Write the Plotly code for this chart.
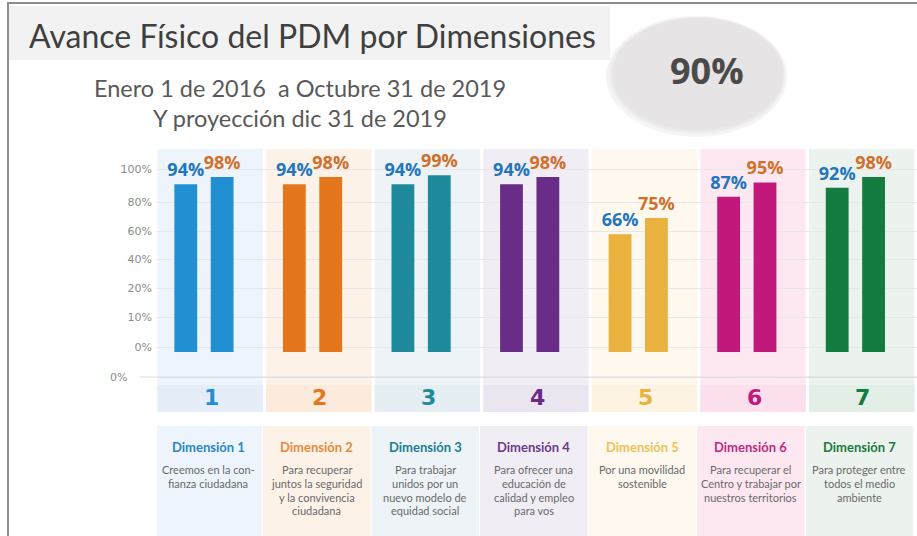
import plotly.graph_objects as go

# ---------------- data ----------------
dimensions = ["1", "2", "3", "4", "5", "6", "7"]
dimension_titles = ["Dimensión 1", "Dimensión 2", "Dimensión 3", "Dimensión 4",
                    "Dimensión 5", "Dimensión 6", "Dimensión 7"]
dimension_texts = [
    ["Creemos en la con-", "fianza ciudadana"],
    ["Para recuperar", "juntos la seguridad", "y la convivencia", "ciudadana"],
    ["Para trabajar", "unidos por un", "nuevo modelo de", "equidad social"],
    ["Para ofrecer una", "educación de", "calidad y empleo", "para vos"],
    ["Por una movilidad", "sostenible"],
    ["Para recuperar el", "Centro y trabajar por", "nuestros territorios"],
    ["Para proteger entre", "todos el medio", "ambiente"],
]
avance_oct_2019 = [94, 94, 94, 94, 66, 87, 92]
proyeccion_dic_2019 = [98, 98, 99, 98, 75, 95, 98]
y_tick_labels = ["100%", "80%", "60%", "40%", "20%", "10%", "0%", "0%"]
y_tick_positions = [102.5, 84, 67.7, 52, 35.8, 19.6, 2.8, -14]
total_label = "90%"
title_text = "Avance Físico del PDM por Dimensiones"
subtitle_lines = ["Enero 1 de 2016  a Octubre 31 de 2019", "Y proyección dic 31 de 2019"]

# ---------------- styles ----------------
bar_colors = ["#2090d3", "#e4761e", "#1e8a9c", "#6a2d87", "#e9b13d", "#c2187b", "#137c3e"]
panel_colors = ["#edf4fb", "#fdf2e8", "#edf3f6", "#f1edf4", "#fef8ee", "#fde8f2", "#ecf3ee"]
band_colors = ["#e5eef8", "#fcebdd", "#e5eef2", "#ebe5ef", "#fdf3e3", "#fbdfed", "#e3eee6"]
title_colors = ["#2a86c4", "#e58a3c", "#1c7f93", "#6b3a8a", "#eec05a", "#c0287e", "#1c7a3e"]
label_blue = "#2176bd"
label_orange = "#d0702a"
TXT_FONT = "Lato"

W, H = 917, 536
L, R, T, B = 157, 917, 149, 412


def px(x):
    return (x - L) / (R - L)


def py(y):
    return (B - y) / (B - T)


YMIN, YMAX = -33.6, 113.7

fig = go.Figure()
fig.add_trace(go.Bar(
    x=dimensions, y=avance_oct_2019, width=0.21, offset=-0.34,
    marker=dict(color=bar_colors, line=dict(width=0)),
    text=[f"{v}%" for v in avance_oct_2019], textposition="outside",
    textfont=dict(family="Open Sans", size=18, color=label_blue, weight="bold"),
    constraintext="none", cliponaxis=False, hoverinfo="skip", showlegend=False,
))
fig.add_trace(go.Bar(
    x=dimensions, y=proyeccion_dic_2019, width=0.21, offset=-0.005,
    marker=dict(color=bar_colors, line=dict(width=0)),
    text=[f"{v}%" for v in proyeccion_dic_2019], textposition="outside",
    textfont=dict(family="Open Sans", size=18, color=label_orange, weight="bold"),
    constraintext="none", cliponaxis=False, hoverinfo="skip", showlegend=False,
))

shapes = []
annotations = []

# frame
shapes.append(dict(type="line", xref="paper", yref="paper", x0=px(7), x1=px(917),
                   y0=py(3), y1=py(3), line=dict(color="#8c8c8c", width=2)))
shapes.append(dict(type="line", xref="paper", yref="paper", x0=px(8), x1=px(8),
                   y0=py(3), y1=py(536), line=dict(color="#8c8c8c", width=2)))
# title box
shapes.append(dict(type="rect", xref="paper", yref="paper", x0=px(9), x1=px(610),
                   y0=py(60), y1=py(6), fillcolor="#f2f2f2", line=dict(width=0), layer="below"))
# ellipse with soft shadow
for grow, col in [(7, "#f6f5f5"), (4, "#f0efef"), (2, "#eae9e9")]:
    shapes.append(dict(type="circle", xref="paper", yref="paper",
                       x0=px(613 - grow), x1=px(783 + grow * 0.6),
                       y0=py(130 + grow), y1=py(18 - grow * 0.3),
                       fillcolor=col, line=dict(width=0), layer="below"))
shapes.append(dict(type="circle", xref="paper", yref="paper", x0=px(613), x1=px(783),
                   y0=py(130), y1=py(18), fillcolor="#e6e4e4", line=dict(width=0), layer="below"))

for i in range(len(dimensions)):
    x0, x1 = i - 0.5 + 0.005, i + 0.5 - 0.025
    # column panel
    shapes.append(dict(type="rect", xref="x", yref="y", x0=x0, x1=x1, y0=YMIN, y1=YMAX,
                       fillcolor=panel_colors[i], line=dict(width=0), layer="below"))
    # number band
    shapes.append(dict(type="rect", xref="x", yref="y", x0=x0, x1=x1, y0=YMIN, y1=-18.5,
                       fillcolor=band_colors[i], line=dict(width=0), layer="below"))
    # description box
    shapes.append(dict(type="rect", xref="x", yref="paper", x0=x0 - 0.03, x1=x1 - 0.01,
                       y0=py(536), y1=py(426), fillcolor=panel_colors[i],
                       line=dict(width=0), layer="below"))
    annotations.append(dict(x=i, y=-25.5, xref="x", yref="y", text=f"<b>{dimensions[i]}</b>",
                            showarrow=False, xanchor="center", yanchor="middle",
                            font=dict(family="DejaVu Sans", size=22, color=bar_colors[i])))
    annotations.append(dict(x=i - 0.03, y=py(447), xref="x", yref="paper",
                            text=f"<b>{dimension_titles[i]}</b>", showarrow=False,
                            xanchor="center", yanchor="middle",
                            font=dict(family=TXT_FONT, size=13, color=title_colors[i])))
    for j, line in enumerate(dimension_texts[i]):
        annotations.append(dict(x=i - 0.03, y=py(470 + 13.5 * j), xref="x", yref="paper",
                                text=line, showarrow=False, xanchor="center", yanchor="middle",
                                font=dict(family=TXT_FONT, size=11, color="#6a6a6a")))

# lower baseline extending into the label area
shapes.append(dict(type="line", xref="paper", yref="y", x0=px(140), x1=1,
                   y0=y_tick_positions[-1], y1=y_tick_positions[-1],
                   line=dict(color="#dcdcdc", width=1)))

# titles
annotations.append(dict(x=px(27), y=py(35), xref="paper", yref="paper", text=title_text,
                        xanchor="left", yanchor="middle", showarrow=False,
                        font=dict(family=TXT_FONT, size=32, color="#3f3f3f")))
for k, line in enumerate(subtitle_lines):
    annotations.append(dict(x=px(300), y=py(88 + 30 * k), xref="paper", yref="paper",
                            text=line, showarrow=False, xanchor="center", yanchor="middle",
                            font=dict(family=TXT_FONT, size=23.5, color="#595959")))
annotations.append(dict(x=px(707), y=py(70), xref="paper", yref="paper",
                        text=f"<b>{total_label}</b>", showarrow=False,
                        xanchor="center", yanchor="middle",
                        font=dict(family="Open Sans", size=36, color="#4a4a4a")))

ticktext = list(y_tick_labels)
ticktext[-1] = ticktext[-1] + "\u00a0" * 7

fig.update_layout(
    width=W, height=H,
    margin=dict(l=L, r=W - R, t=T, b=H - B, pad=0),
    paper_bgcolor="white", plot_bgcolor="white",
    barmode="overlay",
    shapes=shapes, annotations=annotations,
    xaxis=dict(range=[-0.5, 6.5], showticklabels=False, showgrid=False, zeroline=False,
               showline=False, ticks=""),
    yaxis=dict(range=[YMIN, YMAX], tickvals=y_tick_positions, ticktext=ticktext,
               showgrid=True, gridcolor="#e7e7e7", gridwidth=1, zeroline=False,
               showline=False, ticks="", ticklabelstandoff=4,
               tickfont=dict(family="DejaVu Sans", size=11, color="#8c8c8c")),
)

fig.write_html("out.html", config={"displayModeBar": False},
               post_script="document.body.style.margin='0';")
